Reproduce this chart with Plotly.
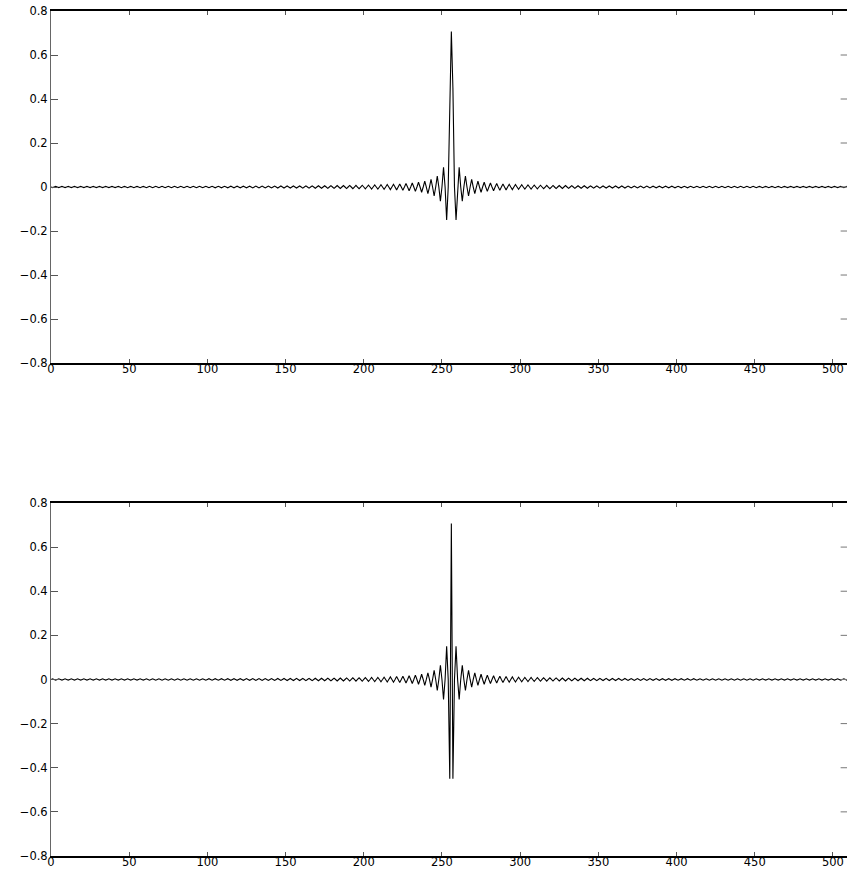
import plotly.graph_objects as go

# sample index of the 512-point filter responses
sample_index = list(range(512))

# top panel: low-pass response
top_vals = [
    0, -0.0028, 0, 0.0028, 0, -0.0028, 0, 0.0028,
    0, -0.0028, 0, 0.0028, 0, -0.0028, 0, 0.0028,
    0, -0.0028, 0, 0.0028, 0, -0.0028, 0, 0.0028,
    0, -0.0028, 0, 0.0028, 0, -0.0028, 0, 0.0028,
    0, -0.0028, 0, 0.0028, 0, -0.0028, 0, 0.0028,
    0, -0.0028, 0, 0.0029, 0, -0.0029, 0, 0.0029,
    0, -0.0029, 0, 0.0029, 0, -0.0029, 0, 0.0029,
    0, -0.0029, 0, 0.0029, 0, -0.0030, 0, 0.0030,
    0, -0.0030, 0, 0.0030, 0, -0.0030, 0, 0.0030,
    0, -0.0031, 0, 0.0031, 0, -0.0031, 0, 0.0031,
    0, -0.0031, 0, 0.0032, 0, -0.0032, 0, 0.0032,
    0, -0.0032, 0, 0.0033, 0, -0.0033, 0, 0.0033,
    0, -0.0033, 0, 0.0034, 0, -0.0034, 0, 0.0034,
    0, -0.0035, 0, 0.0035, 0, -0.0035, 0, 0.0035,
    0, -0.0036, 0, 0.0036, 0, -0.0036, 0, 0.0037,
    0, -0.0037, 0, 0.0038, 0, -0.0038, 0, 0.0039,
    0, -0.0039, 0, 0.0040, 0, -0.0040, 0, 0.0041,
    0, -0.0041, 0, 0.0042, 0, -0.0043, 0, 0.0043,
    0, -0.0044, 0, 0.0045, 0, -0.0045, 0, 0.0046,
    0, -0.0047, 0, 0.0048, 0, -0.0048, 0, 0.0049,
    0, -0.0050, 0, 0.0051, 0, -0.0052, 0, 0.0053,
    0, -0.0054, 0, 0.0055, 0, -0.0057, 0, 0.0058,
    0, -0.0059, 0, 0.0061, 0, -0.0062, 0, 0.0064,
    0, -0.0065, 0, 0.0067, 0, -0.0069, 0, 0.0071,
    0, -0.0073, 0, 0.0076, 0, -0.0078, 0, 0.0081,
    0, -0.0083, 0, 0.0086, 0, -0.0090, 0, 0.0093,
    0, -0.0097, 0, 0.0101, 0, -0.0106, 0, 0.0111,
    0, -0.0117, 0, 0.0123, 0, -0.0130, 0, 0.0137,
    0, -0.0146, 0, 0.0156, 0, -0.0167, 0, 0.0181,
    0, -0.0196, 0, 0.0215, 0, -0.0237, 0, 0.0265,
    0, -0.0301, 0, 0.0347, 0, -0.0410, 0, 0.0500,
    0, -0.0643, 0, 0.0900, 0, -0.1501, 0, 0.4502,
    0.7071, 0.4502, 0, -0.1501, 0, 0.0900, 0, -0.0643,
    0, 0.0500, 0, -0.0410, 0, 0.0347, 0, -0.0301,
    0, 0.0265, 0, -0.0237, 0, 0.0215, 0, -0.0196,
    0, 0.0181, 0, -0.0167, 0, 0.0156, 0, -0.0146,
    0, 0.0137, 0, -0.0130, 0, 0.0123, 0, -0.0117,
    0, 0.0111, 0, -0.0106, 0, 0.0101, 0, -0.0097,
    0, 0.0093, 0, -0.0090, 0, 0.0086, 0, -0.0083,
    0, 0.0081, 0, -0.0078, 0, 0.0076, 0, -0.0073,
    0, 0.0071, 0, -0.0069, 0, 0.0067, 0, -0.0065,
    0, 0.0064, 0, -0.0062, 0, 0.0061, 0, -0.0059,
    0, 0.0058, 0, -0.0057, 0, 0.0055, 0, -0.0054,
    0, 0.0053, 0, -0.0052, 0, 0.0051, 0, -0.0050,
    0, 0.0049, 0, -0.0048, 0, 0.0048, 0, -0.0047,
    0, 0.0046, 0, -0.0045, 0, 0.0045, 0, -0.0044,
    0, 0.0043, 0, -0.0043, 0, 0.0042, 0, -0.0041,
    0, 0.0041, 0, -0.0040, 0, 0.0040, 0, -0.0039,
    0, 0.0039, 0, -0.0038, 0, 0.0038, 0, -0.0037,
    0, 0.0037, 0, -0.0036, 0, 0.0036, 0, -0.0036,
    0, 0.0035, 0, -0.0035, 0, 0.0035, 0, -0.0035,
    0, 0.0034, 0, -0.0034, 0, 0.0034, 0, -0.0033,
    0, 0.0033, 0, -0.0033, 0, 0.0033, 0, -0.0032,
    0, 0.0032, 0, -0.0032, 0, 0.0032, 0, -0.0031,
    0, 0.0031, 0, -0.0031, 0, 0.0031, 0, -0.0031,
    0, 0.0030, 0, -0.0030, 0, 0.0030, 0, -0.0030,
    0, 0.0030, 0, -0.0030, 0, 0.0029, 0, -0.0029,
    0, 0.0029, 0, -0.0029, 0, 0.0029, 0, -0.0029,
    0, 0.0029, 0, -0.0029, 0, 0.0029, 0, -0.0028,
    0, 0.0028, 0, -0.0028, 0, 0.0028, 0, -0.0028,
    0, 0.0028, 0, -0.0028, 0, 0.0028, 0, -0.0028,
    0, 0.0028, 0, -0.0028, 0, 0.0028, 0, -0.0028,
    0, 0.0028, 0, -0.0028, 0, 0.0028, 0, -0.0028,
    0, 0.0028, 0, -0.0028, 0, 0.0028, 0, -0.0028,
]

# bottom panel: high-pass response
bottom_vals = [
    0, 0.0028, 0, -0.0028, 0, 0.0028, 0, -0.0028,
    0, 0.0028, 0, -0.0028, 0, 0.0028, 0, -0.0028,
    0, 0.0028, 0, -0.0028, 0, 0.0028, 0, -0.0028,
    0, 0.0028, 0, -0.0028, 0, 0.0028, 0, -0.0028,
    0, 0.0028, 0, -0.0028, 0, 0.0028, 0, -0.0028,
    0, 0.0028, 0, -0.0029, 0, 0.0029, 0, -0.0029,
    0, 0.0029, 0, -0.0029, 0, 0.0029, 0, -0.0029,
    0, 0.0029, 0, -0.0029, 0, 0.0030, 0, -0.0030,
    0, 0.0030, 0, -0.0030, 0, 0.0030, 0, -0.0030,
    0, 0.0031, 0, -0.0031, 0, 0.0031, 0, -0.0031,
    0, 0.0031, 0, -0.0032, 0, 0.0032, 0, -0.0032,
    0, 0.0032, 0, -0.0033, 0, 0.0033, 0, -0.0033,
    0, 0.0033, 0, -0.0034, 0, 0.0034, 0, -0.0034,
    0, 0.0035, 0, -0.0035, 0, 0.0035, 0, -0.0035,
    0, 0.0036, 0, -0.0036, 0, 0.0036, 0, -0.0037,
    0, 0.0037, 0, -0.0038, 0, 0.0038, 0, -0.0039,
    0, 0.0039, 0, -0.0040, 0, 0.0040, 0, -0.0041,
    0, 0.0041, 0, -0.0042, 0, 0.0043, 0, -0.0043,
    0, 0.0044, 0, -0.0045, 0, 0.0045, 0, -0.0046,
    0, 0.0047, 0, -0.0048, 0, 0.0048, 0, -0.0049,
    0, 0.0050, 0, -0.0051, 0, 0.0052, 0, -0.0053,
    0, 0.0054, 0, -0.0055, 0, 0.0057, 0, -0.0058,
    0, 0.0059, 0, -0.0061, 0, 0.0062, 0, -0.0064,
    0, 0.0065, 0, -0.0067, 0, 0.0069, 0, -0.0071,
    0, 0.0073, 0, -0.0076, 0, 0.0078, 0, -0.0081,
    0, 0.0083, 0, -0.0086, 0, 0.0090, 0, -0.0093,
    0, 0.0097, 0, -0.0101, 0, 0.0106, 0, -0.0111,
    0, 0.0117, 0, -0.0123, 0, 0.0130, 0, -0.0137,
    0, 0.0146, 0, -0.0156, 0, 0.0167, 0, -0.0181,
    0, 0.0196, 0, -0.0215, 0, 0.0237, 0, -0.0265,
    0, 0.0301, 0, -0.0347, 0, 0.0410, 0, -0.0500,
    0, 0.0643, 0, -0.0900, 0, 0.1501, 0, -0.4502,
    0.7071, -0.4502, 0, 0.1501, 0, -0.0900, 0, 0.0643,
    0, -0.0500, 0, 0.0410, 0, -0.0347, 0, 0.0301,
    0, -0.0265, 0, 0.0237, 0, -0.0215, 0, 0.0196,
    0, -0.0181, 0, 0.0167, 0, -0.0156, 0, 0.0146,
    0, -0.0137, 0, 0.0130, 0, -0.0123, 0, 0.0117,
    0, -0.0111, 0, 0.0106, 0, -0.0101, 0, 0.0097,
    0, -0.0093, 0, 0.0090, 0, -0.0086, 0, 0.0083,
    0, -0.0081, 0, 0.0078, 0, -0.0076, 0, 0.0073,
    0, -0.0071, 0, 0.0069, 0, -0.0067, 0, 0.0065,
    0, -0.0064, 0, 0.0062, 0, -0.0061, 0, 0.0059,
    0, -0.0058, 0, 0.0057, 0, -0.0055, 0, 0.0054,
    0, -0.0053, 0, 0.0052, 0, -0.0051, 0, 0.0050,
    0, -0.0049, 0, 0.0048, 0, -0.0048, 0, 0.0047,
    0, -0.0046, 0, 0.0045, 0, -0.0045, 0, 0.0044,
    0, -0.0043, 0, 0.0043, 0, -0.0042, 0, 0.0041,
    0, -0.0041, 0, 0.0040, 0, -0.0040, 0, 0.0039,
    0, -0.0039, 0, 0.0038, 0, -0.0038, 0, 0.0037,
    0, -0.0037, 0, 0.0036, 0, -0.0036, 0, 0.0036,
    0, -0.0035, 0, 0.0035, 0, -0.0035, 0, 0.0035,
    0, -0.0034, 0, 0.0034, 0, -0.0034, 0, 0.0033,
    0, -0.0033, 0, 0.0033, 0, -0.0033, 0, 0.0032,
    0, -0.0032, 0, 0.0032, 0, -0.0032, 0, 0.0031,
    0, -0.0031, 0, 0.0031, 0, -0.0031, 0, 0.0031,
    0, -0.0030, 0, 0.0030, 0, -0.0030, 0, 0.0030,
    0, -0.0030, 0, 0.0030, 0, -0.0029, 0, 0.0029,
    0, -0.0029, 0, 0.0029, 0, -0.0029, 0, 0.0029,
    0, -0.0029, 0, 0.0029, 0, -0.0029, 0, 0.0028,
    0, -0.0028, 0, 0.0028, 0, -0.0028, 0, 0.0028,
    0, -0.0028, 0, 0.0028, 0, -0.0028, 0, 0.0028,
    0, -0.0028, 0, 0.0028, 0, -0.0028, 0, 0.0028,
    0, -0.0028, 0, 0.0028, 0, -0.0028, 0, 0.0028,
    0, -0.0028, 0, 0.0028, 0, -0.0028, 0, 0.0028,
]

x_tick_vals = [0, 50, 100, 150, 200, 250, 300, 350, 400, 450, 500]
x_tick_text = ["0", "50", "100", "150", "200", "250", "300", "350", "400", "450", "500"]
y_tick_vals = [-0.8, -0.6, -0.4, -0.2, 0, 0.2, 0.4, 0.6, 0.8]
y_tick_text = ["\u22120.8", "\u22120.6", "\u22120.4", "\u22120.2", "0", "0.2", "0.4", "0.6", "0.8"]

FONT = dict(family="DejaVu Sans", size=11.5, color="black")

fig = go.Figure()
fig.add_trace(go.Scatter(x=sample_index, y=top_vals, mode="lines",
                         line=dict(color="black", width=1.1), xaxis="x", yaxis="y",
                         showlegend=False, hoverinfo="skip"))
fig.add_trace(go.Scatter(x=sample_index, y=bottom_vals, mode="lines",
                         line=dict(color="black", width=1.1), xaxis="x2", yaxis="y2",
                         showlegend=False, hoverinfo="skip"))


def xax(anchor):
    return dict(anchor=anchor, domain=[0, 1], range=[0, 509], automargin=False,
                tickmode="array", tickvals=x_tick_vals, ticktext=x_tick_text,
                ticks="inside", ticklen=4, tickcolor="#555", tickwidth=1,
                ticklabelstandoff=-6, ticklabeloverflow="allow",
                showline=True, linecolor="black", linewidth=2, mirror="ticks",
                showgrid=False, zeroline=False, tickfont=FONT)


def yax(anchor, dom):
    return dict(anchor=anchor, domain=dom, range=[-0.8, 0.8], automargin=False,
                tickmode="array", tickvals=y_tick_vals, ticktext=y_tick_text,
                ticks="inside", ticklen=7, tickcolor="#555", tickwidth=1,
                ticklabeloverflow="allow",
                showline=True, linecolor="#666", linewidth=1, mirror=False,
                showgrid=False, zeroline=False, tickfont=FONT)


shapes = []
for yref in ("y", "y2"):
    for v in y_tick_vals[1:-1]:
        shapes.append(dict(type="line", xref="x domain" if yref == "y" else "x2 domain",
                           yref=yref, x0=0.992, x1=1.0, y0=v, y1=v,
                           line=dict(color="#777", width=1)))

fig.update_layout(
    width=847, height=869,
    margin=dict(l=51, r=0, t=11, b=13, autoexpand=False),
    paper_bgcolor="white", plot_bgcolor="white",
    xaxis=xax("y"), yaxis=yax("x", [0.5834, 1.0]),
    xaxis2=xax("y2"), yaxis2=yax("x2", [0.0, 0.4178]),
    shapes=shapes,
)

# remove the default 8 px page margin so the figure fills the window exactly
fig.write_html("out.html", config={"displayModeBar": False},
               post_script="document.body.style.margin='0';")
